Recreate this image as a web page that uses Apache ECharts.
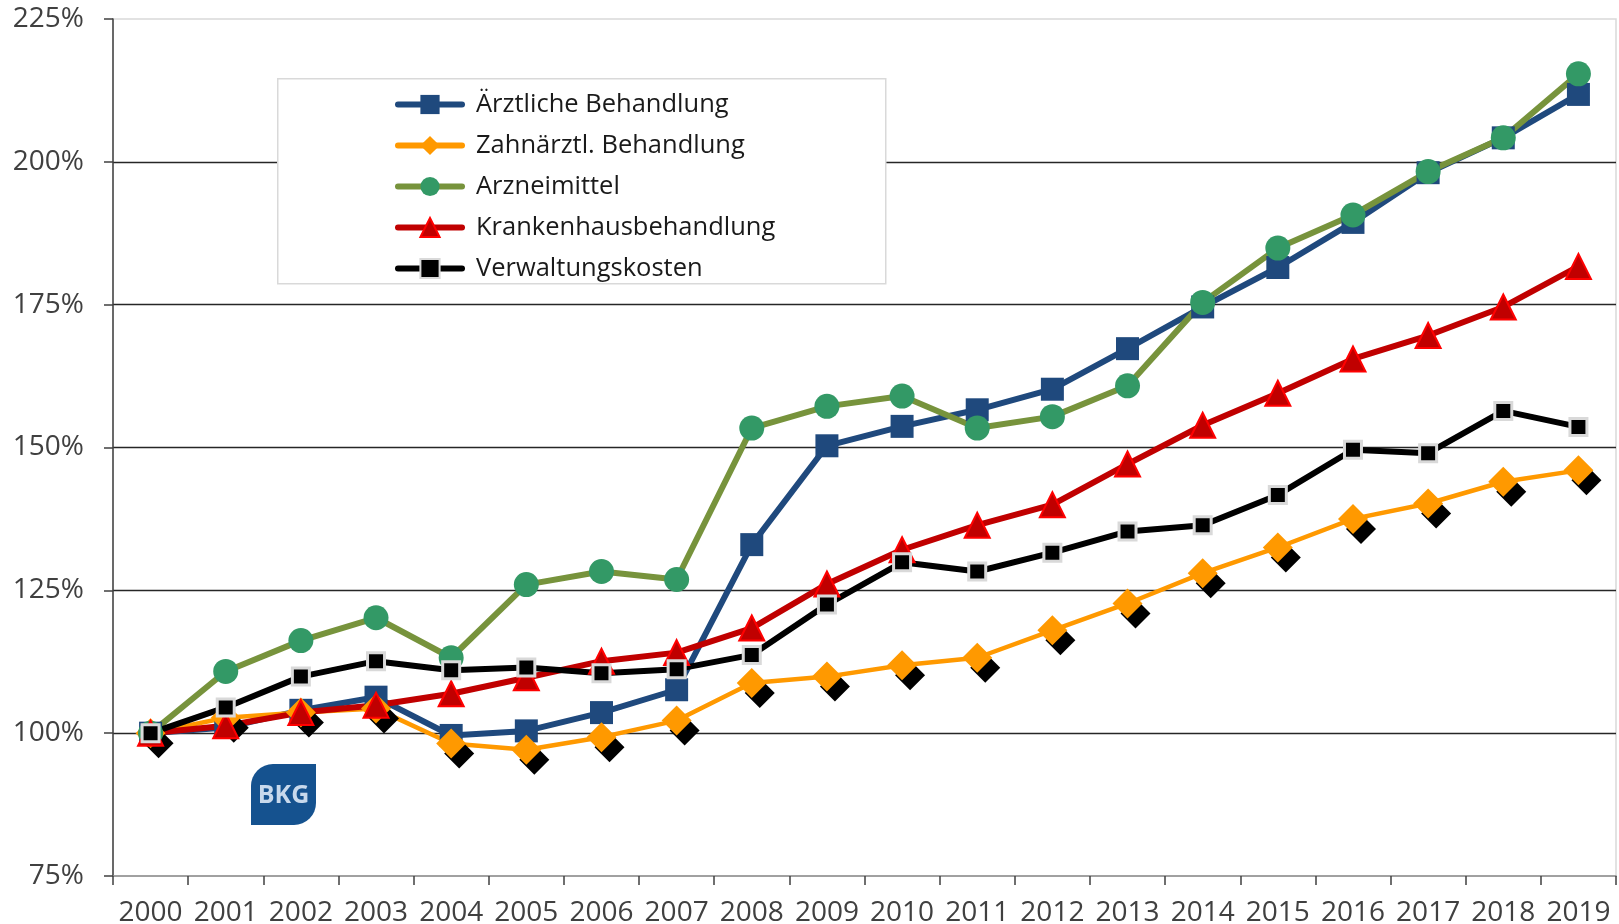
<!DOCTYPE html>
<html>
<head>
<meta charset="utf-8">
<script src="https://cdn.jsdelivr.net/npm/echarts@6/dist/echarts.min.js"></script>
<style>
  html, body { margin: 0; padding: 0; background: #fff; }
  #chart { width: 1619px; height: 924px; }
</style>
</head>
<body>
<div id="chart"></div>
<script>
const years = ['2000', '2001', '2002', '2003', '2004', '2005', '2006', '2007', '2008', '2009',
  '2010', '2011', '2012', '2013', '2014', '2015', '2016', '2017', '2018', '2019'];

const seriesNames = ['Ärztliche Behandlung', 'Zahnärztl. Behandlung', 'Arzneimittel', 'Krankenhausbehandlung', 'Verwaltungskosten'];

const aerztlich = [100, 101, 104, 106.3, 99.6, 100.4, 103.6, 107.6, 133, 150.3,
  153.7, 156.6, 160.2, 167.3, 174.6, 181.5, 189.4, 198.1, 204.2, 211.8];
const zahn = [100, 102.7, 103.6, 104.3, 98.2, 97.1, 99.3, 102.2, 108.8, 109.9,
  111.9, 113.2, 118, 122.7, 128, 132.5, 137.5, 140.2, 144, 146];
const arznei = [100, 110.8, 116.2, 120.2, 113.2, 126, 128.3, 126.9, 153.4, 157.2,
  159, 153.4, 155.4, 160.8, 175.4, 184.9, 190.7, 198.3, 204.2, 215.4];
const krankenhaus = [100, 101.3, 103.6, 104.9, 106.9, 109.7, 112.6, 114.1, 118.4, 126.1,
  132.1, 136.4, 140, 147.1, 153.9, 159.5, 165.5, 169.6, 174.6, 181.7];
const verwaltung = [100, 104.5, 109.9, 112.6, 111, 111.5, 110.5, 111.2, 113.7, 122.5,
  129.9, 128.3, 131.6, 135.3, 136.4, 141.7, 149.6, 149, 156.4, 153.6];

const yMin = 75;
const yMax = 225;
const yStep = 25;

const font = '"Open Sans", "Noto Sans", sans-serif';
const textColor = '#404040';

const chart = echarts.init(document.getElementById('chart'));

chart.setOption({
  animation: false,
  textStyle: { fontFamily: font },
  grid: {
    left: 113,
    right: 3,
    top: 19,
    bottom: 48,
    outerBoundsMode: 'none',
    show: true,
    borderColor: '#d9d9d9',
    borderWidth: 1.5,
    backgroundColor: '#fff'
  },
  legend: {
    orient: 'vertical',
    left: 390,
    top: 84,
    itemWidth: 64,
    itemHeight: 24,
    itemGap: 10,
    z: 10,
    textStyle: {
      fontFamily: font,
      fontSize: 25.5,
      color: '#1a1a1a',
      lineHeight: 31,
      padding: [0, 0, 0, 9]
    },
    lineStyle: { width: 6, cap: 'round' },
    itemStyle: {
      shadowColor: 'rgba(0,0,0,0)',
      shadowOffsetX: 0,
      shadowOffsetY: 0
    },
    data: seriesNames
  },
  graphic: [
    {
      // legend frame
      type: 'rect',
      left: 277,
      top: 78,
      z: 5,
      shape: { width: 608, height: 205 },
      style: { fill: '#fff', stroke: '#d9d9d9', lineWidth: 1.5 }
    },
    {
      type: 'group',
      left: 251,
      top: 764,
      z: 5,
      children: [
        {
          type: 'rect',
          shape: { width: 65, height: 61, r: [22, 0, 22, 0] },
          style: { fill: '#15528f' }
        },
        {
          type: 'text',
          x: 32.5,
          y: 32,
          style: {
            text: 'BKG',
            fill: '#c8d9ec',
            font: 'bold 25px ' + font,
            align: 'center',
            verticalAlign: 'middle'
          }
        }
      ]
    }
  ],
  xAxis: {
    type: 'category',
    data: years,
    boundaryGap: true,
    axisLine: { lineStyle: { color: '#8c8c8c', width: 1.5 } },
    axisTick: { show: true, length: 9, lineStyle: { color: '#404040', width: 1.5 } },
    axisLabel: {
      fontFamily: font,
      fontSize: 28,
      color: textColor,
      margin: 23,
      interval: 0
    },
    splitLine: { show: false }
  },
  yAxis: {
    type: 'value',
    min: yMin,
    max: yMax,
    interval: yStep,
    axisLine: { show: true, lineStyle: { color: '#404040', width: 1.5 } },
    axisTick: { show: true, length: 9, lineStyle: { color: '#404040', width: 1.5 } },
    axisLabel: {
      fontFamily: font,
      fontSize: 28,
      color: textColor,
      margin: 29,
      formatter: '{value}%'
    },
    splitLine: {
      show: true,
      showMinLine: false,
      showMaxLine: false,
      lineStyle: { color: '#262626', width: 1.3 }
    }
  },
  series: [
    {
      name: seriesNames[0],
      type: 'line',
      data: aerztlich,
      color: '#1f497d',
      symbol: 'rect',
      symbolSize: 23,
      lineStyle: { color: '#1f497d', width: 6 },
      itemStyle: { color: '#1f497d' }
    },
    {
      name: seriesNames[1],
      type: 'line',
      data: zahn,
      color: '#ff9900',
      symbol: 'diamond',
      symbolSize: 30,
      lineStyle: { color: '#ff9900', width: 4.5 },
      itemStyle: {
        color: '#ff9900',
        shadowColor: '#000',
        shadowBlur: 0,
        shadowOffsetX: 8,
        shadowOffsetY: 10
      }
    },
    {
      name: seriesNames[2],
      type: 'line',
      data: arznei,
      color: '#77933c',
      symbol: 'circle',
      symbolSize: 25,
      lineStyle: { color: '#77933c', width: 6 },
      itemStyle: { color: '#339966' }
    },
    {
      name: seriesNames[3],
      type: 'line',
      data: krankenhaus,
      color: '#c00000',
      symbol: 'triangle',
      symbolSize: 25,
      lineStyle: { color: '#c00000', width: 6 },
      itemStyle: { color: '#c00000', borderColor: '#ff0000', borderWidth: 2 }
    },
    {
      name: seriesNames[4],
      type: 'line',
      data: verwaltung,
      color: '#000000',
      symbol: 'rect',
      symbolSize: 17,
      lineStyle: { color: '#000000', width: 6 },
      itemStyle: { color: '#000000', borderColor: '#d9d9d9', borderWidth: 3 }
    }
  ]
});
</script>
</body>
</html>
